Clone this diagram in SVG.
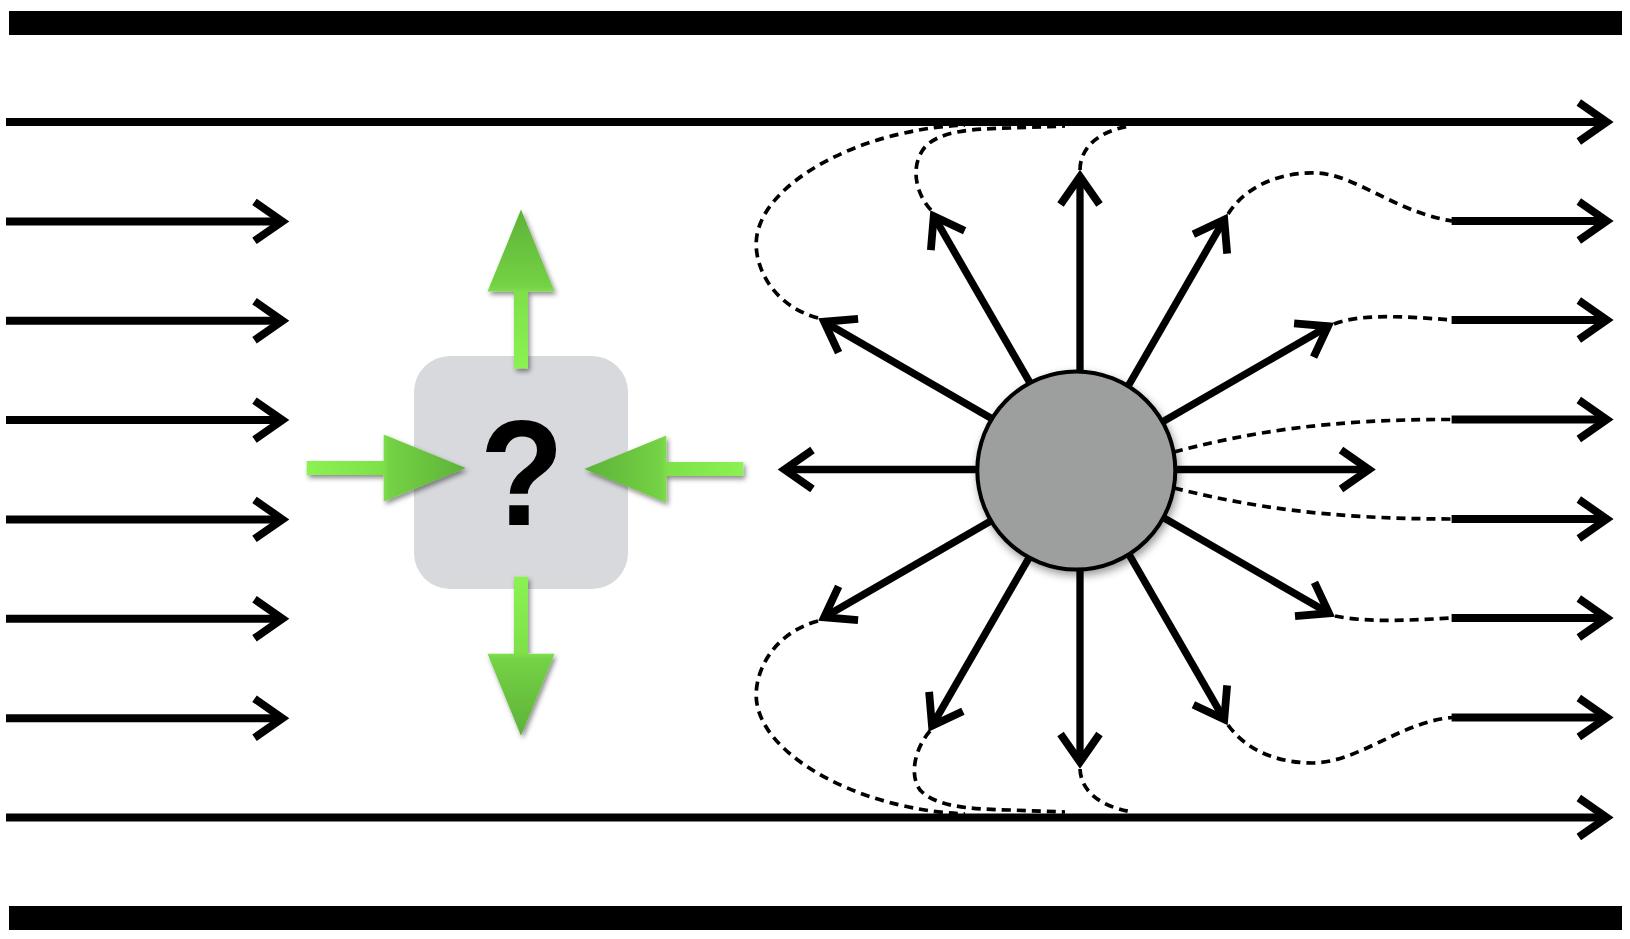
<svg xmlns="http://www.w3.org/2000/svg" width="1630" height="939" viewBox="0 0 1630 939">
<style>
.bar{fill:#000}
.flow{stroke:#000;stroke-width:8;fill:none;marker-end:url(#chev)}
.spoke{stroke:#000;stroke-width:7.3;fill:none;marker-end:url(#chev)}
.dash{stroke:#000;stroke-width:3.7;fill:none;stroke-dasharray:9 6}
.garrow{fill:url(#ggrad)}
</style>
<defs>
<marker id="chev" markerUnits="userSpaceOnUse" markerWidth="80" markerHeight="80" viewBox="-40 -40 80 80" refX="0" refY="0" orient="auto" overflow="visible">
<path d="M-28,-19.5 L0,0 L-28,19.5" fill="none" stroke="#000" stroke-width="7.8" stroke-linejoin="miter" stroke-miterlimit="10"/>
</marker>
<linearGradient id="ggrad" x1="0" y1="0" x2="1" y2="0">
<stop offset="0" stop-color="#8bf252"/>
<stop offset="0.48" stop-color="#7fe04a"/>
<stop offset="0.52" stop-color="#74d245"/>
<stop offset="1" stop-color="#5eb237"/>
</linearGradient>
<path id="garrowshape" d="M0,-7 H77 V-33.5 L159,0 L77,33.5 V7 H0 Z"/>
<filter id="gshadow" x="-40%" y="-40%" width="180%" height="180%">
<feDropShadow dx="2" dy="3" stdDeviation="2.5" flood-color="#000" flood-opacity="0.45"/>
</filter>
<filter id="cshadow" x="-20%" y="-20%" width="140%" height="140%">
<feDropShadow dx="2" dy="4" stdDeviation="4" flood-color="#000" flood-opacity="0.4"/>
</filter>
</defs>

<g id="walls">
<rect class="bar" x="9" y="11" width="1613" height="24"/>
<rect class="bar" x="9" y="906" width="1613" height="24"/>
</g>

<g id="connectors">
<g id="flow-lines">
<line class="flow" x1="6" y1="122" x2="1606.8" y2="122"/>
<line class="flow" x1="6" y1="817.5" x2="1606.8" y2="817.5"/>
<line class="flow" x1="6" y1="221.4" x2="282.5" y2="221.4"/>
<line class="flow" x1="6" y1="320.7" x2="282.5" y2="320.7"/>
<line class="flow" x1="6" y1="420.1" x2="282.5" y2="420.1"/>
<line class="flow" x1="6" y1="519.4" x2="282.5" y2="519.4"/>
<line class="flow" x1="6" y1="618.8" x2="282.5" y2="618.8"/>
<line class="flow" x1="6" y1="718.2" x2="282.5" y2="718.2"/>
<line class="flow" x1="1451.6" y1="221" x2="1606.8" y2="221"/>
<line class="flow" x1="1451.6" y1="320" x2="1606.8" y2="320"/>
<line class="flow" x1="1451.6" y1="419.5" x2="1606.8" y2="419.5"/>
<line class="flow" x1="1451.6" y1="519" x2="1606.8" y2="519"/>
<line class="flow" x1="1451.6" y1="618" x2="1606.8" y2="618"/>
<line class="flow" x1="1451.6" y1="717.5" x2="1606.8" y2="717.5"/>
</g>
<g id="spokes">
<line class="spoke" x1="1080" y1="469.5" x2="1369" y2="469.5"/>
<line class="spoke" x1="1080" y1="469.5" x2="1328.1" y2="326.25"/>
<line class="spoke" x1="1080" y1="469.5" x2="1224.25" y2="219.7"/>
<line class="spoke" x1="1080" y1="469.5" x2="1080" y2="176.5"/>
<line class="spoke" x1="1080" y1="469.5" x2="933.75" y2="216.2"/>
<line class="spoke" x1="1080" y1="469.5" x2="824.1" y2="321.75"/>
<line class="spoke" x1="1080" y1="469.5" x2="784.5" y2="469.5"/>
<line class="spoke" x1="1080" y1="469.5" x2="824.1" y2="617.25"/>
<line class="spoke" x1="1080" y1="469.5" x2="932" y2="725.8"/>
<line class="spoke" x1="1080" y1="469.5" x2="1080" y2="762"/>
<line class="spoke" x1="1080" y1="469.5" x2="1224.25" y2="719.3"/>
<line class="spoke" x1="1080" y1="469.5" x2="1329" y2="613.25"/>
</g>
<g id="streamlines">
<path class="dash" d="M818,318 C770,305 752,262 757,235 C765,190 830,150 900,134 C925,128 945,126 965,125"/>
<path class="dash" d="M931,210 C915,193 910,165 925,147 C940,131 970,129 1010,128 L1065,126"/>
<path class="dash" d="M1080,170 C1080,148 1098,131 1130,126"/>
<path class="dash" d="M818,621 C770,634 752,677 757,704 C765,749 830,789 900,805 C925,811 945,813 965,814"/>
<path class="dash" d="M930,731 C915,748 909,775 920,790 C935,806 965,809 1010,810 L1065,812"/>
<path class="dash" d="M1080,769 C1081,790 1098,806 1132,812"/>
<path class="dash" d="M1228,214 C1250,180 1290,172 1316,173 C1355,174 1395,212 1452,221"/>
<path class="dash" d="M1334,324 C1360,314 1400,316 1452,320"/>
<path class="dash" d="M1174,452 C1250,432 1330,419 1452,419.5"/>
<path class="dash" d="M1174,488 C1250,507 1330,519 1452,519"/>
<path class="dash" d="M1335,616 C1365,622 1400,621 1452,618"/>
<path class="dash" d="M1228,725 C1250,755 1285,763 1313,763 C1360,762 1400,722 1452,717.5"/>
</g>
</g>

<g id="obstacle">
<circle cx="1076.3" cy="470.5" r="99" fill="#9c9f9e" stroke="#000" stroke-width="4" filter="url(#cshadow)"/>
</g>

<g id="unknown-box">
<rect x="414" y="356" width="214" height="233" rx="36" ry="36" fill="#d8d9dd"/>
<text transform="translate(522,525) scale(0.92,1)" x="0" y="0" text-anchor="middle" font-family="'Liberation Sans', Arial, sans-serif" font-weight="bold" font-size="150" fill="#000">?</text>
</g>

<g id="green-arrow-up" filter="url(#gshadow)">
<use href="#garrowshape" class="garrow" transform="translate(521,368.6) rotate(-90)"/>
</g>
<g id="green-arrow-down" filter="url(#gshadow)">
<use href="#garrowshape" class="garrow" transform="translate(521,576.8) rotate(90)"/>
</g>
<g id="green-arrow-left-in" filter="url(#gshadow)">
<use href="#garrowshape" class="garrow" transform="translate(306.7,468)"/>
</g>
<g id="green-arrow-right-in" filter="url(#gshadow)">
<use href="#garrowshape" class="garrow" transform="translate(743.3,469) rotate(180)"/>
</g>
</svg>
